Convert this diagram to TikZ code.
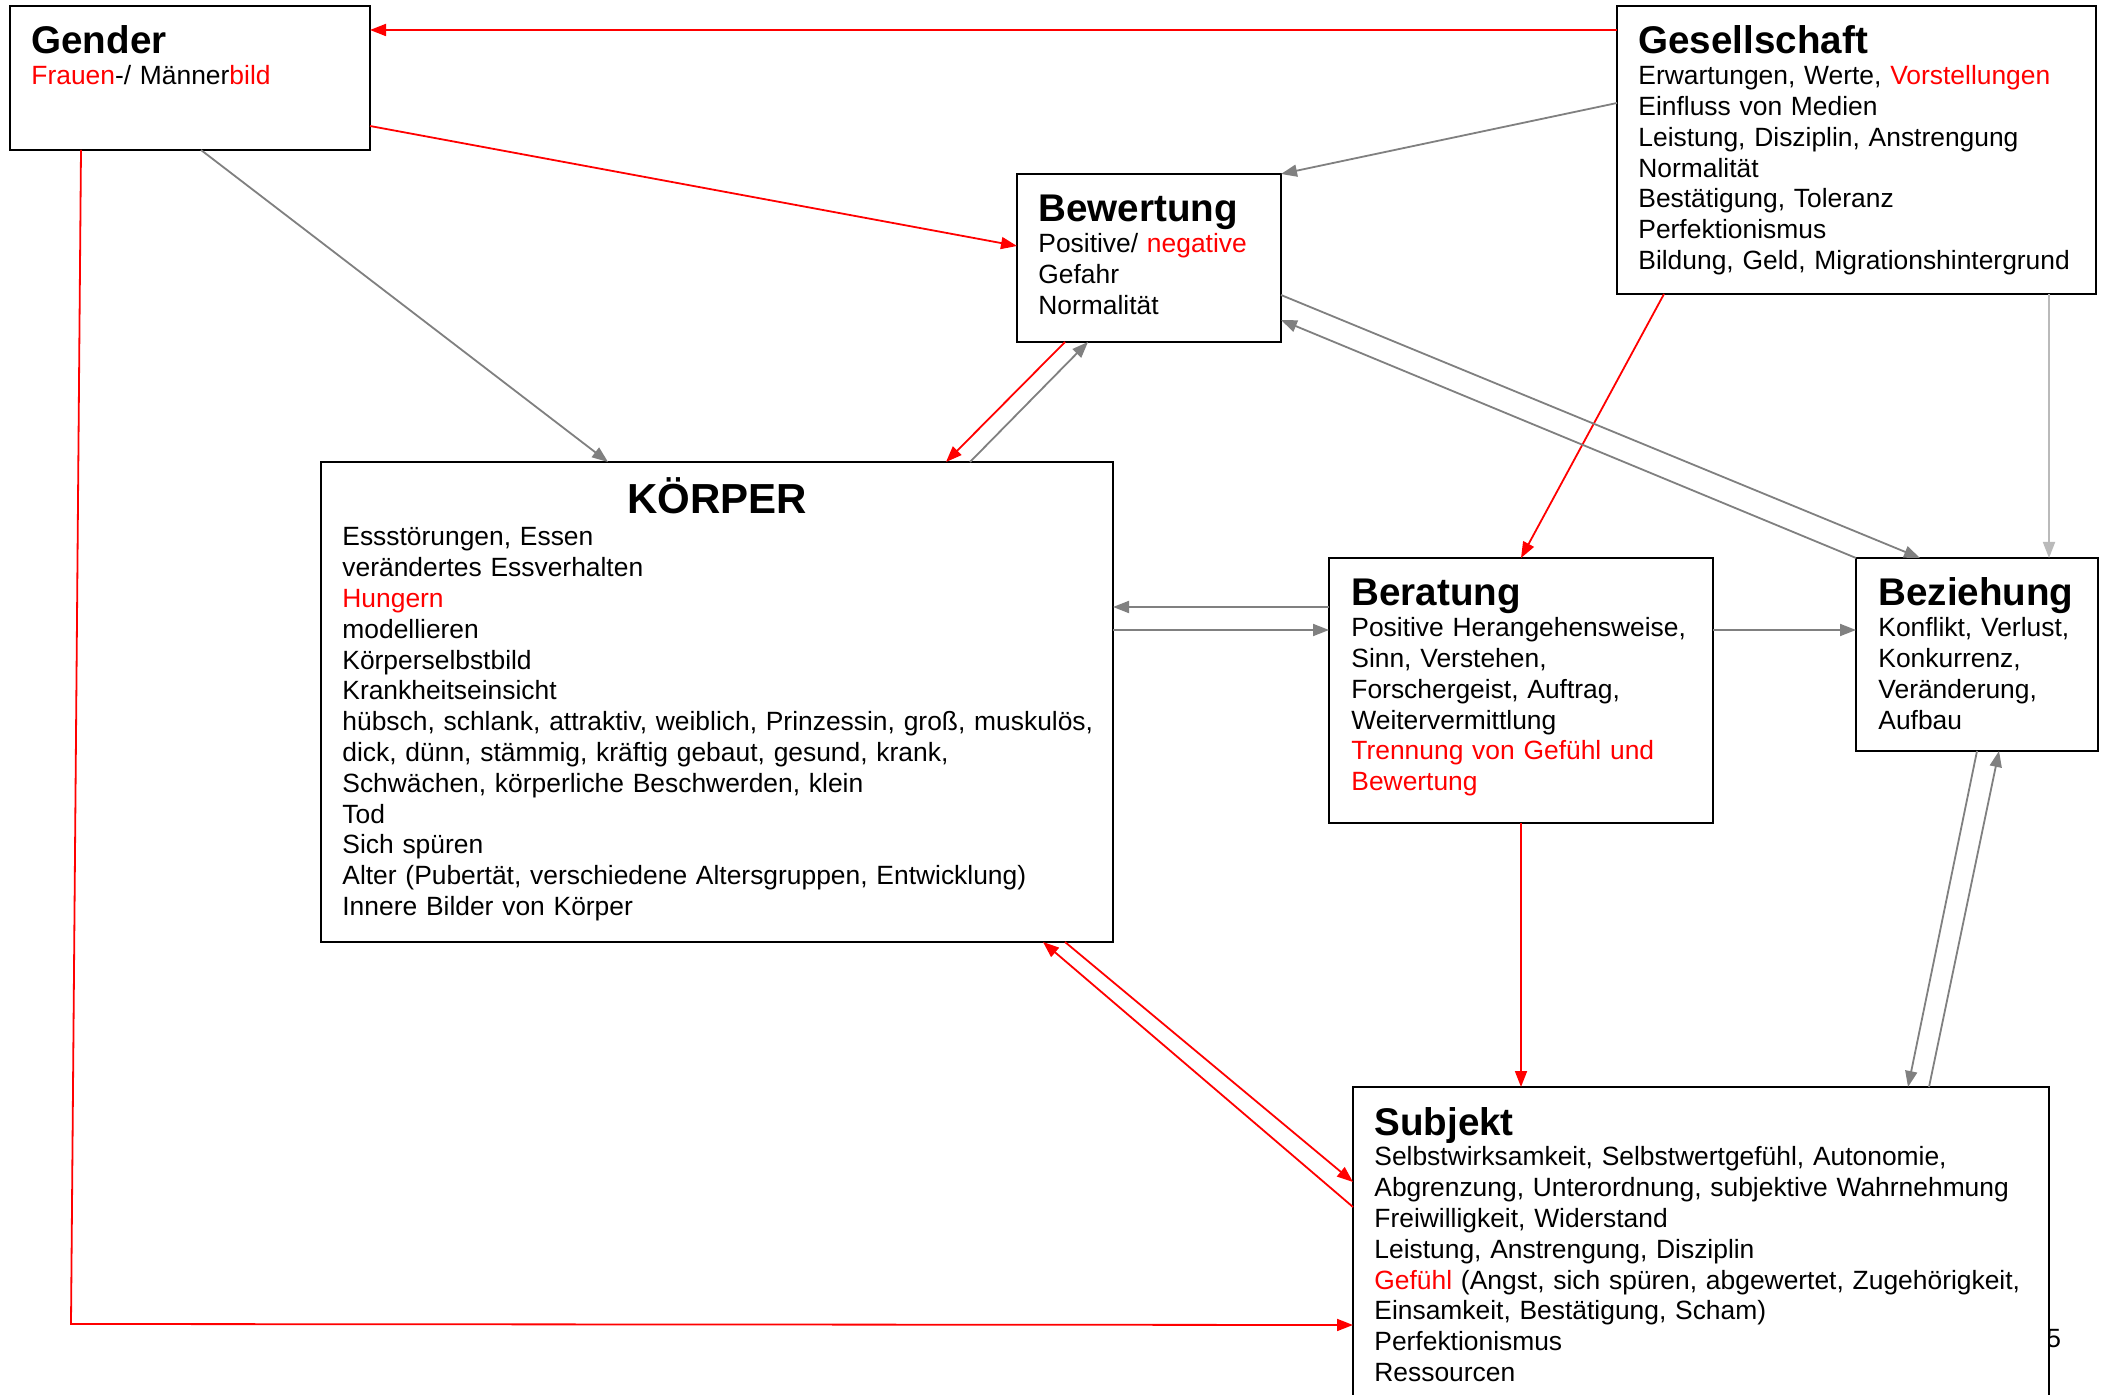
\documentclass[tikz,border=0pt]{standalone}
\usepackage{fontspec}
\setmainfont{Liberation Sans}
\usetikzlibrary{arrows.meta,calc}

\newcommand{\boxtitle}[1]{{\fontsize{19.3}{19.3}\selectfont\bfseries #1}}

\begin{document}
\begin{tikzpicture}[x=0.5pt, y=-0.5pt,
		box/.style={draw, line width=1pt, fill=white, inner sep=0pt, outer sep=0pt, anchor=north west},
		txt/.style={anchor=base west, inner sep=0pt, align=left, text width=420pt, font=\fontsize{13.2}{15.4}\selectfont},
		link/.style={line width=0.9pt, -{Triangle[length=8pt, width=6pt]}},
		redlink/.style={link, red},
		graylink/.style={link, black!50},
		lightlink/.style={link, black!27}]

	\fill [white] (0, 0) rectangle (2105, 1395);
	\clip (0, 0) rectangle (2105, 1395);

	% page number, half hidden behind the Subjekt box
	\node [txt] (pagenum) at (2046, 1347) {5};

	% boxes
	\node [box, minimum width=180pt, minimum height=72pt] (gender) at (10, 6) {};
	\node [box, minimum width=239.5pt, minimum height=144pt] (gesell) at (1617, 6) {};
	\node [box, minimum width=132pt, minimum height=84pt] (bewert) at (1017, 174) {};
	\node [box, minimum width=396pt, minimum height=240pt] (koerper) at (321, 462) {};
	\node [box, minimum width=192pt, minimum height=132.5pt] (beratung) at (1329, 558) {};
	\node [box, minimum width=121pt, minimum height=96.5pt] (bezieh) at (1856, 558) {};
	\node [box, minimum width=348pt, minimum height=200pt] (subjekt) at (1353, 1087) {};

	% texts
	\node [txt] (gendertext) at ($(gender.north west)+(21, 48)$)
		{\boxtitle{Gender}\\
		\textcolor{red}{Frauen}-/ Männer\textcolor{red}{bild}};

	\node [txt] (geselltext) at ($(gesell.north west)+(21, 48)$)
		{\boxtitle{Gesellschaft}\\
		Erwartungen, Werte, \textcolor{red}{Vorstellungen}\\
		Einfluss von Medien\\
		Leistung, Disziplin, Anstrengung\\
		Normalität\\
		Bestätigung, Toleranz\\
		Perfektionismus\\
		Bildung, Geld, Migrationshintergrund};

	\node [txt] (bewerttext) at ($(bewert.north west)+(21, 48)$)
		{\boxtitle{Bewertung}\\
		Positive/ \textcolor{red}{negative}\\
		Gefahr\\
		Normalität};

	\node [txt] (koerpertext) at ($(koerper.north west)+(21, 52)$)
		{\makebox[375pt]{\fontsize{21}{21}\selectfont\bfseries KÖRPER}\\[0.6pt]
		Essstörungen, Essen\\
		verändertes Essverhalten\\
		\textcolor{red}{Hungern}\\
		modellieren\\
		Körperselbstbild\\
		Krankheitseinsicht\\
		hübsch, schlank, attraktiv, weiblich, Prinzessin, groß, muskulös,\\
		dick, dünn, stämmig, kräftig gebaut, gesund, krank,\\
		Schwächen, körperliche Beschwerden, klein\\
		Tod\\
		Sich spüren\\
		Alter (Pubertät, verschiedene Altersgruppen, Entwicklung)\\
		Innere Bilder von Körper};

	\node [txt] (beratungtext) at ($(beratung.north west)+(22, 48)$)
		{\boxtitle{Beratung}\\
		Positive Herangehensweise,\\
		Sinn, Verstehen,\\
		Forschergeist, Auftrag,\\
		Weitervermittlung\\
		\textcolor{red}{Trennung von Gefühl und}\\
		\textcolor{red}{Bewertung}};

	\node [txt] (beziehtext) at ($(bezieh.north west)+(22, 48)$)
		{\boxtitle{Beziehung}\\
		Konflikt, Verlust,\\
		Konkurrenz,\\
		Veränderung,\\
		Aufbau};

	\node [txt] (subjekttext) at ($(subjekt.north west)+(21, 48)$)
		{\boxtitle{Subjekt}\\
		Selbstwirksamkeit, Selbstwertgefühl, Autonomie,\\
		Abgrenzung, Unterordnung, subjektive Wahrnehmung\\
		Freiwilligkeit, Widerstand\\
		Leistung, Anstrengung, Disziplin\\
		\textcolor{red}{Gefühl} (Angst, sich spüren, abgewertet, Zugehörigkeit,\\
		Einsamkeit, Bestätigung, Scham)\\
		Perfektionismus\\
		Ressourcen};

	% connectors
	\draw [redlink] ($(gesell.north west)+(0, 24)$) -- ($(gender.north east)+(0, 24)$);
	\draw [redlink] ($(gender.north east)+(0, 120)$) -- ($(bewert.north west)+(0, 72)$);
	\draw [graylink] ($(gender.south west)+(191, 0)$) -- ($(koerper.north west)+(287, 0)$);
	\draw [redlink] ($(gender.south west)+(71, 0)$) -- ++(-10, 1174) -- ($(subjekt.north west)+(0, 238)$);

	\draw [graylink] ($(gesell.north west)+(0, 97)$) -- (bewert.north east);
	\draw [redlink] ($(gesell.south west)+(47, 0)$) -- (beratung.north);
	\draw [lightlink] ($(gesell.south west)+(432, 0)$) -- ($(bezieh.north west)+(193, 0)$);

	\draw [graylink] ($(bewert.north east)+(0, 121)$) -- ($(bezieh.north west)+(64, 0)$);
	\draw [graylink] (bezieh.north west) -- ($(bewert.north east)+(0, 146)$);
	\draw [redlink] ($(bewert.south west)+(48, 0)$) -- ($(koerper.north west)+(625, 0)$);
	\draw [graylink] ($(koerper.north west)+(649, 0)$) -- ($(bewert.south west)+(71, 0)$);

	\draw [graylink] ($(beratung.north west)+(0, 49)$) -- ($(koerper.north east)+(0, 145)$);
	\draw [graylink] ($(koerper.north east)+(0, 168)$) -- ($(beratung.north west)+(0, 72)$);
	\draw [graylink] ($(beratung.north east)+(0, 72)$) -- ($(bezieh.north west)+(0, 72)$);
	\draw [redlink] (beratung.south) -- ($(subjekt.north west)+(168, 0)$);

	\draw [redlink] ($(koerper.south west)+(744, 0)$) -- ($(subjekt.north west)+(0, 95)$);
	\draw [redlink] ($(subjekt.north west)+(0, 120)$) -- ($(koerper.south west)+(722, 0)$);
	\draw [graylink] ($(bezieh.south west)+(121, 0)$) -- ($(subjekt.north west)+(555, 0)$);
	\draw [graylink] ($(subjekt.north west)+(576, 0)$) -- ($(bezieh.south west)+(143, 0)$);
\end{tikzpicture}
\end{document}
